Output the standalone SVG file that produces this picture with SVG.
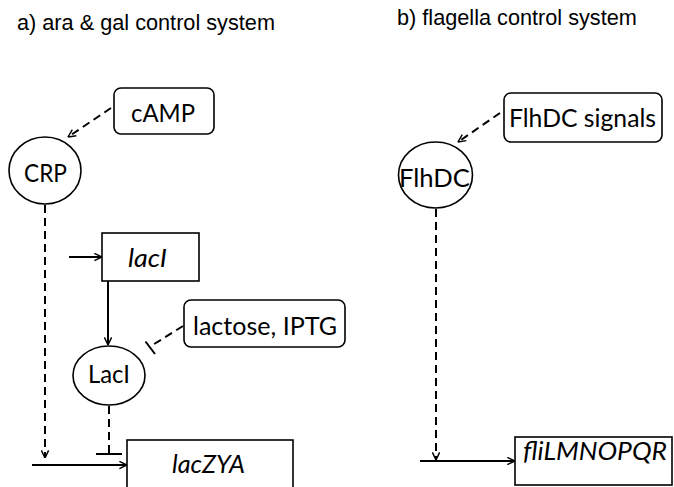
<svg xmlns="http://www.w3.org/2000/svg" width="674" height="487" viewBox="0 0 674 487">
<defs>
<marker id="arr" viewBox="0 0 10 10" refX="9.5" refY="5" markerWidth="9" markerHeight="9" markerUnits="userSpaceOnUse" orient="auto">
<path d="M1,1 L9.5,5 L1,9" fill="none" stroke="#000" stroke-width="1.6" stroke-dasharray="none"/>
</marker>
</defs>
<style>
.title{font-family:"Liberation Sans",Arial,sans-serif;font-size:21.7px;fill:#000}
.lbl{font-family:Lato,"Open Sans",sans-serif;font-size:25px;fill:#000}
.it{font-style:italic}
.box{fill:#fff;stroke:#000;stroke-width:1.6}
.sol{fill:none;stroke:#000;stroke-width:2}
.dash{fill:none;stroke:#000;stroke-width:2;stroke-dasharray:8,5}
</style>
<rect width="674" height="487" fill="#fff"/>
<text class="title" x="17" y="30">a) ara &amp; gal control system</text>
<text class="title" x="397" y="25">b) flagella control system</text>

<g id="connectors">
<line class="dash" x1="111" y1="108" x2="68" y2="137" marker-end="url(#arr)"/>
<line class="dash" x1="45" y1="205" x2="45" y2="458" marker-end="url(#arr)"/>
<line class="sol" x1="69" y1="257" x2="102" y2="257" marker-end="url(#arr)"/>
<line class="sol" x1="108" y1="281" x2="108" y2="345" marker-end="url(#arr)"/>
<line class="dash" x1="183" y1="326" x2="151" y2="346"/>
<line class="sol" x1="145.5" y1="341.5" x2="155" y2="354"/>
<line class="dash" x1="109" y1="406" x2="109" y2="453"/>
<line class="sol" x1="96" y1="454" x2="122" y2="454"/>
<line class="sol" x1="32" y1="465" x2="127" y2="465" marker-end="url(#arr)"/>
<line class="dash" x1="500" y1="113" x2="458" y2="142" marker-end="url(#arr)"/>
<line class="dash" x1="436" y1="209" x2="436" y2="460" marker-end="url(#arr)"/>
<line class="sol" x1="420" y1="461" x2="515" y2="461" marker-end="url(#arr)"/>
</g>

<g id="cAMP">
<rect class="box" x="114" y="88" width="100" height="46" rx="7"/>
<text class="lbl" x="131" y="122" textLength="64" lengthAdjust="spacingAndGlyphs">cAMP</text>
</g>
<g id="CRP">
<ellipse class="box" cx="45" cy="170.5" rx="36" ry="33.5"/>
<text class="lbl" x="24" y="182" textLength="43" lengthAdjust="spacingAndGlyphs">CRP</text>
</g>
<g id="lacI-gene">
<rect class="box" x="102" y="233" width="97" height="48"/>
<text class="lbl it" x="128" y="267" textLength="39" lengthAdjust="spacingAndGlyphs">lacI</text>
</g>
<g id="lactose">
<rect class="box" x="184" y="300" width="161" height="47" rx="7"/>
<text class="lbl" x="193" y="335" textLength="144" lengthAdjust="spacingAndGlyphs">lactose, IPTG</text>
</g>
<g id="LacI">
<ellipse class="box" cx="109" cy="375.5" rx="36" ry="29.5"/>
<text class="lbl" x="88" y="383" textLength="42" lengthAdjust="spacingAndGlyphs">LacI</text>
</g>
<g id="lacZYA">
<rect class="box" x="127" y="440" width="166" height="60"/>
<text class="lbl it" x="172" y="473" textLength="73" lengthAdjust="spacingAndGlyphs">lacZYA</text>
</g>
<g id="FlhDC-signals">
<rect class="box" x="504" y="93" width="158" height="49" rx="7"/>
<text class="lbl" x="509" y="127" textLength="147" lengthAdjust="spacingAndGlyphs">FlhDC signals</text>
</g>
<g id="FlhDC">
<ellipse class="box" cx="435.5" cy="175" rx="37" ry="33"/>
<text class="lbl" x="399" y="187" textLength="71" lengthAdjust="spacingAndGlyphs">FlhDC</text>
</g>
<g id="fliLMNOPQR">
<rect class="box" x="515" y="437" width="157" height="48"/>
<text class="lbl it" x="523" y="460" textLength="144" lengthAdjust="spacingAndGlyphs">fliLMNOPQR</text>
</g>
</svg>
